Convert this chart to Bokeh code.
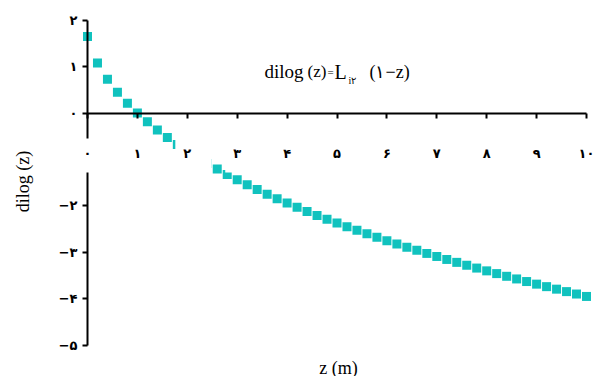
import math
from bokeh.plotting import figure
from bokeh.models import Range1d, LinearAxis, FixedTicker, Label
from bokeh.embed import file_html
from bokeh.resources import INLINE

# ---- data ----
z_values = [0.0, 0.2, 0.4, 0.6, 0.8, 1.0, 1.2, 1.4, 1.6, 1.8,
            2.0, 2.2, 2.4, 2.6, 2.8, 3.0, 3.2, 3.4, 3.6, 3.8,
            4.0, 4.2, 4.4, 4.6, 4.8, 5.0, 5.2, 5.4, 5.6, 5.8,
            6.0, 6.2, 6.4, 6.6, 6.8, 7.0, 7.2, 7.4, 7.6, 7.8,
            8.0, 8.2, 8.4, 8.6, 8.8, 9.0, 9.2, 9.4, 9.6, 9.8, 10.0]
dilog_values = [1.645, 1.075, 0.728, 0.449, 0.212, 0.000, -0.191, -0.366, -0.528, -0.680,
                -0.822, -0.957, -1.086, -1.208, -1.325, -1.437, -1.545, -1.648, -1.749, -1.846,
                -1.939, -2.030, -2.119, -2.205, -2.288, -2.370, -2.449, -2.527, -2.603, -2.677,
                -2.749, -2.820, -2.890, -2.958, -3.024, -3.090, -3.154, -3.217, -3.279, -3.340,
                -3.400, -3.459, -3.517, -3.574, -3.630, -3.686, -3.740, -3.794, -3.847, -3.899, -3.951]
x_ticks = [0, 1, 2, 3, 4, 5, 6, 7, 8, 9, 10]
x_tick_labels = ["۰", "۱", "۲", "۳", "۴", "۵", "۶", "۷", "۸", "۹", "۱۰"]
y_ticks = [-5, -4, -3, -2, -1, 0, 1, 2]
y_tick_labels = ["−۵", "−۴", "−۳", "−۲", "", "۰", "۱", "۲"]

SERIF = "Liberation Serif"
DIGITS = "DejaVu Sans"

W, H = 596, 376

def px(xp):
    return (xp - 87) / 49.9

def py(yp):
    return (112.5 - yp) / 46.43

p = figure(width=W, height=H,
           x_range=Range1d(px(0), px(W)), y_range=Range1d(py(H), py(0)),
           output_backend="svg", toolbar_location=None,
           x_axis_location=None, y_axis_location=None,
           min_border=0, outline_line_color=None)
p.background_fill_color = "white"
p.grid.visible = False

# data points
p.scatter(z_values, dilog_values, marker="square", size=9,
          fill_color="#10C2BE", line_color=None)

# y axis at x=0
yaxis = LinearAxis(fixed_location=0, bounds=(-5, 2),
                   ticker=FixedTicker(ticks=y_ticks),
                   major_label_overrides={t: l for t, l in zip(y_ticks, y_tick_labels)},
                   major_tick_in=0, major_tick_out=5,
                   minor_tick_in=0, minor_tick_out=0,
                   axis_line_width=2, major_tick_line_width=2,
                   major_label_standoff=5,
                   major_label_text_font=DIGITS,
                   major_label_text_font_size="13px",
                   major_label_text_font_style="bold",
                   major_label_text_color="black")
p.add_layout(yaxis, "left")

# white label boxes (behind x tick labels)
p.quad(left=[t - 0.24 for t in x_ticks], right=[t + 0.49 for t in x_ticks],
       top=-0.55, bottom=-1.28, fill_color="white", line_color=None,
       level="annotation")

# x axis at y=0
xaxis = LinearAxis(fixed_location=0, bounds=(0, 10),
                   ticker=FixedTicker(ticks=x_ticks),
                   major_label_overrides={t: l for t, l in zip(x_ticks, x_tick_labels)},
                   major_tick_in=0, major_tick_out=5,
                   minor_tick_in=0, minor_tick_out=0,
                   axis_line_width=2, major_tick_line_width=2,
                   major_label_standoff=28,
                   major_label_text_font=DIGITS,
                   major_label_text_font_size="13px",
                   major_label_text_font_style="bold",
                   major_label_text_color="black",
                   level="overlay")
p.add_layout(xaxis, "below")

def lab(text, xp, yp, size, font=SERIF, baseline="alphabetic", align="left", **kw):
    p.add_layout(Label(x=px(xp), y=py(yp), text=text, text_font=font,
                       text_font_size=size, text_color="black",
                       text_baseline=baseline, text_align=align, **kw))

# title pieces
lab("dilog", 264, 71, "19px")
lab("(z)", 307, 71, "17px")
lab("=", 327, 71, "11px")
lab("L", 334, 71, "20px")
lab("i۲", 348, 80, "10px")
lab("(۱−z)", 369, 71, "18px")

# axis titles
lab("dilog (z)", 22, 181, "18px", baseline="middle", align="center", angle=math.pi / 2)
lab("z (m)", 338, 367, "18px", align="center")

open("out.html", "w").write(file_html(p, INLINE))
